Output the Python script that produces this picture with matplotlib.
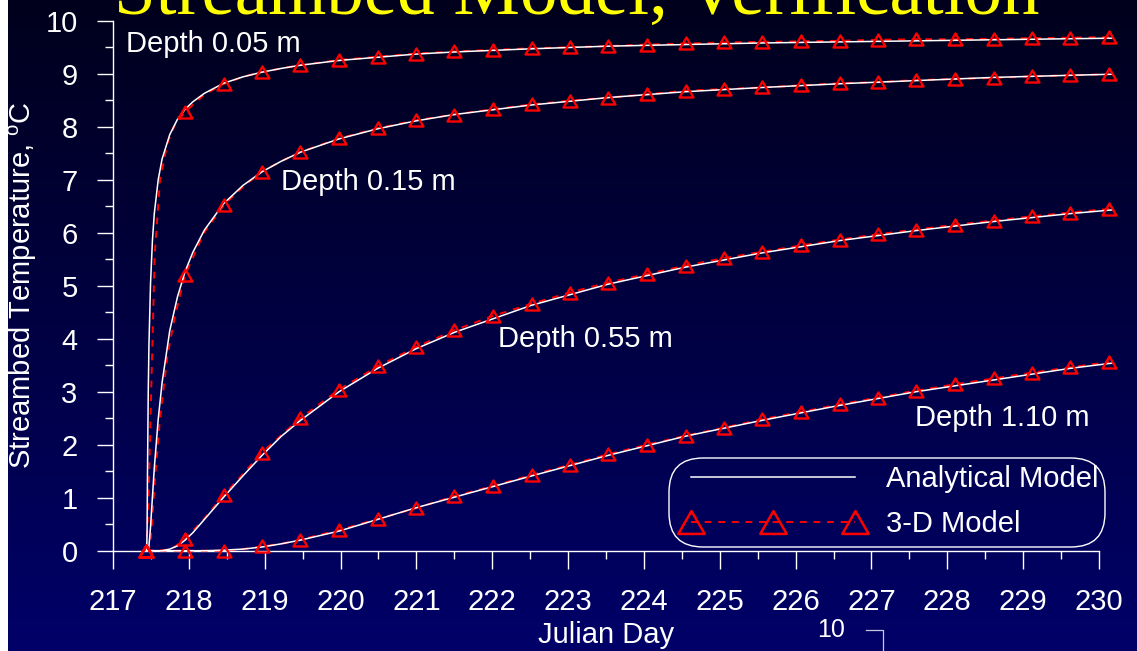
import numpy as np
import matplotlib
matplotlib.use("Agg")
import matplotlib.pyplot as plt
from matplotlib.lines import Line2D
from matplotlib.patches import FancyBboxPatch, Rectangle
from matplotlib.path import Path

plt.rcParams['font.family'] = ['Liberation Sans', 'DejaVu Sans']
plt.rcParams['mathtext.fontset'] = 'custom'
plt.rcParams['mathtext.rm'] = 'Liberation Sans'
plt.rcParams['mathtext.it'] = 'Liberation Sans:italic'

# ---------------------------------------------------------------- text
title = "Streambed Model, Verification"
x_label = "Julian Day"
y_label = "Streambed Temperature, $^{\\mathrm{o}}$C"
depth_labels = ["Depth 0.05 m", "Depth 0.15 m", "Depth 0.55 m", "Depth 1.10 m"]
legend_labels = ["Analytical Model", "3-D Model"]
page_number = "10"
x_ticks = list(range(217, 231))
y_ticks = list(range(0, 11))

# ---------------------------------------------------------------- analytical solution
analytic_days = [217.444, 217.449, 217.454, 217.464, 217.474, 217.495, 217.520,
                 217.545, 217.596, 217.647, 217.748, 217.850, 217.951, 218.053,
                 218.205, 218.459, 218.712, 218.966, 219.220, 219.473, 219.981,
                 220.488, 220.995, 221.502, 222.517, 223.532, 224.546, 225.561,
                 226.575, 227.590, 228.605, 229.619, 230.177]
analytic_005 = [0, 0.35, 1.35, 2.92, 3.89, 5.05, 5.86, 6.37, 7.00, 7.39, 7.85,
                8.14, 8.33, 8.47, 8.63, 8.82, 8.94, 9.03, 9.10, 9.16, 9.25, 9.31,
                9.37, 9.41, 9.47, 9.52, 9.55, 9.58, 9.60, 9.62, 9.64, 9.66, 9.67]
analytic_015 = [0, 0, 0, 0.02, 0.09, 0.45, 1.02, 1.57, 2.48, 3.17, 4.15, 4.79,
                5.27, 5.63, 6.05, 6.55, 6.89, 7.15, 7.35, 7.52, 7.77, 7.96, 8.11,
                8.23, 8.41, 8.55, 8.66, 8.74, 8.81, 8.87, 8.93, 8.97, 8.99]
analytic_055 = [0, 0, 0, 0, 0, 0, 0, 0, 0, 0, 0.03, 0.09, 0.20, 0.34, 0.59,
                1.01, 1.41, 1.80, 2.16, 2.46, 3.00, 3.44, 3.81, 4.12, 4.63, 5.03,
                5.35, 5.62, 5.85, 6.04, 6.21, 6.36, 6.43]
analytic_110 = [0, 0, 0, 0, 0, 0, 0, 0, 0, 0, 0, 0, 0, 0, 0, 0.01, 0.03, 0.07,
                0.13, 0.20, 0.37, 0.59, 0.81, 1.01, 1.41, 1.80, 2.16, 2.46, 2.74,
                3.00, 3.22, 3.44, 3.54]

# ---------------------------------------------------------------- 3-D model output
model_days = [217.44, 217.47, 217.50, 217.55, 217.62, 217.72, 217.82, 217.95,
              218.20, 218.46, 218.71, 218.96, 219.22, 219.47, 219.98, 220.49,
              220.99, 221.50, 222.01, 222.52, 223.02, 223.53, 224.04, 224.55,
              225.05, 225.56, 226.07, 226.58, 227.08, 227.59, 228.10, 228.61,
              229.12, 229.62, 230.13]
model_005 = [0, 1.0, 2.8, 5.6, 7.0, 7.7, 8.05, 8.28, 8.60, 8.81, 8.94, 9.03,
             9.10, 9.16, 9.26, 9.32, 9.38, 9.42, 9.45, 9.48, 9.50, 9.52, 9.55,
             9.57, 9.59, 9.60, 9.61, 9.62, 9.64, 9.65, 9.65, 9.66, 9.67, 9.68, 9.69]
model_015 = [0, 0, 0.25, 1.3, 2.5, 3.7, 4.45, 5.20, 6.00, 6.52, 6.86, 7.15,
             7.35, 7.52, 7.78, 7.97, 8.12, 8.23, 8.33, 8.42, 8.49, 8.55, 8.61,
             8.68, 8.71, 8.74, 8.78, 8.82, 8.84, 8.88, 8.90, 8.92, 8.95, 8.97, 8.99]
model_055 = [0, 0, 0, 0, 0, 0.02, 0.08, 0.22, 0.60, 1.05, 1.44, 1.85, 2.18,
             2.50, 3.04, 3.48, 3.84, 4.16, 4.43, 4.66, 4.87, 5.06, 5.22, 5.38,
             5.52, 5.64, 5.76, 5.87, 5.97, 6.06, 6.15, 6.23, 6.31, 6.38, 6.45]
model_110 = [0, 0, 0, 0, 0, 0, 0, 0, 0, 0, 0.03, 0.08, 0.13, 0.21, 0.39, 0.60,
             0.80, 1.03, 1.22, 1.43, 1.62, 1.82, 2.00, 2.17, 2.32, 2.48, 2.62,
             2.76, 2.89, 3.02, 3.14, 3.25, 3.36, 3.46, 3.56]
# days on which the model output is marked with a triangle
marker_days = [217.44, 217.95, 218.46, 218.96, 219.47, 219.98, 220.49, 220.99,
               221.50, 222.01, 222.52, 223.02, 223.53, 224.04, 224.55, 225.05,
               225.56, 226.07, 226.58, 227.08, 227.59, 228.10, 228.61, 229.12,
               229.62, 230.13]

# label anchors (day, temperature) for each depth
label_pos = [(217.17, 9.40), (219.21, 6.80), (222.08, 3.85), (227.57, 2.35)]

# ---------------------------------------------------------------- figure
W, H = 1137, 651
FS = 21
fig = plt.figure(figsize=(W / 100, H / 100), dpi=100)

# slide background: dark navy gradient
bg = fig.add_axes([0, 0, 1, 1], zorder=0)
grad = np.linspace(0, 1, 256)[:, None]
top = np.array([0.0, 0.0, 0.11])
bot = np.array([0.0, 0.0, 0.41])
img = top[None, None, :] * (1 - grad[:, :, None]) + bot[None, None, :] * grad[:, :, None]
bg.imshow(img, aspect='auto', extent=[0, 1, 0, 1], origin='upper')
bg.add_patch(Rectangle((0, 0), 8 / W, 1, color='white', lw=0))
bg.set_xlim(0, 1)
bg.set_ylim(0, 1)
bg.axis('off')

ax = fig.add_axes([113 / W, (H - 550.7) / H, 986 / W, 530 / H], zorder=1)
ax.set_facecolor('none')
ax.set_xlim(217, 230)
ax.set_ylim(0, 10)

# closed equilateral triangle marker
tri = Path([(0, 0.433), (-0.5, -0.433), (0.5, -0.433), (0, 0.433)],
           [Path.MOVETO, Path.LINETO, Path.LINETO, Path.CLOSEPOLY])
mark_idx = [model_days.index(d) for d in marker_days]

analytic_series = [analytic_005, analytic_015, analytic_055, analytic_110]
model_series = [model_005, model_015, model_055, model_110]
for a_vals, m_vals in zip(analytic_series, model_series):
    ax.plot(model_days, m_vals, color='red', lw=1.4, ls=(0, (3.5, 3.5)),
            clip_on=False, zorder=3)
    ax.plot(analytic_days, a_vals, color='white', lw=1.1, clip_on=False, zorder=4)
    ax.plot(np.array(model_days)[mark_idx], np.array(m_vals)[mark_idx],
            ls='none', marker=tri, ms=10, mfc='none', mec='red', mew=1.7,
            clip_on=False, zorder=5)

for text, (xd, yd) in zip(depth_labels, label_pos):
    ax.text(xd, yd, text, color='white', fontsize=FS, ha='left', va='baseline',
            zorder=6)

# axes styling
for side in ['top', 'right']:
    ax.spines[side].set_visible(False)
for side in ['left', 'bottom']:
    ax.spines[side].set_color('white')
    ax.spines[side].set_linewidth(1.0)
ax.spines['bottom'].set_bounds(217, 230)
ax.spines['left'].set_bounds(0, 10)

ax.set_xticks(x_ticks)
ax.set_xticks(np.arange(217.5, 230, 1.0), minor=True)
ax.set_yticks(y_ticks)
ax.set_yticks(np.arange(0.5, 10, 1.0), minor=True)
ax.tick_params(axis='x', which='major', direction='out', length=13, width=1.0,
               color='white', labelcolor='white', labelsize=FS, pad=14)
ax.tick_params(axis='x', which='minor', direction='out', length=6, width=1.0,
               color='white')
ax.tick_params(axis='y', which='major', direction='out', length=11.5, width=1.0,
               color='white', labelcolor='white', labelsize=FS, pad=14)
ax.tick_params(axis='y', which='minor', direction='out', length=6, width=1.0,
               color='white')

# axis titles
fig.text(606 / W, 1 - 643 / H, x_label, color='white', fontsize=FS,
         ha='center', va='baseline')
fig.text(23 / W, 1 - 285 / H, y_label, color='white', fontsize=FS,
         ha='center', va='center', rotation=90)

# slide title
fig.text(114 / W, 1 - 14 / H, title, color='#FFFF00', fontsize=54,
         family=['Liberation Serif', 'DejaVu Serif'], ha='left', va='baseline')

# legend
handles = [Line2D([], [], color='white', lw=1.1),
           Line2D([], [], color='red', lw=1.4, ls=(0, (3.5, 3.5)), marker=tri,
                  ms=19, mfc='none', mec='red', mew=1.8)]
fs_px = FS * 100 / 72
leg = fig.legend(handles, legend_labels, loc='center left',
                 bbox_to_anchor=((691 - 0.3 * fs_px) / W, 1 - 501.5 / H),
                 frameon=False, fontsize=FS, labelcolor='white',
                 handlelength=(855 - 691) / fs_px + 0.6,
                 handletextpad=(886 - 855) / fs_px - 0.3, labelspacing=0.6,
                 borderpad=0, borderaxespad=0, numpoints=3)
box = FancyBboxPatch((669 / W, 1 - 547 / H), (1105 - 669) / W, (547 - 458) / H,
                     boxstyle='round,pad=0,rounding_size=0.03',
                     transform=fig.transFigure, fc='none', ec='white', lw=1.0,
                     mutation_aspect=W / H)
fig.add_artist(box)

# page number and corner mark
fig.text(831 / W, 1 - 637 / H, page_number, color='white', fontsize=18,
         ha='center', va='baseline')
fig.add_artist(Line2D([866 / W, 883 / W, 883 / W],
                      [1 - 629.5 / H, 1 - 629.5 / H, 0], color='#C8C8D8', lw=0.9,
                      transform=fig.transFigure))

fig.savefig('out.png', dpi=100, facecolor='black')
